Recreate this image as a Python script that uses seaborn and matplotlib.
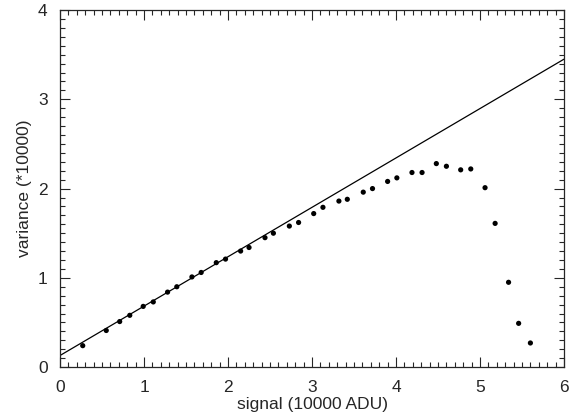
import matplotlib
matplotlib.use("Agg")
import matplotlib.pyplot as plt
from matplotlib.ticker import MultipleLocator
import seaborn as sns

# datos
signal = [0.27, 0.55, 0.71, 0.83, 0.99, 1.11, 1.28, 1.39, 1.57, 1.68,
          1.86, 1.97, 2.15, 2.25, 2.44, 2.54, 2.73, 2.84, 3.02, 3.13,
          3.32, 3.42, 3.61, 3.72, 3.90, 4.01, 4.19, 4.31, 4.48, 4.60,
          4.77, 4.89, 5.06, 5.18, 5.34, 5.46, 5.60]
variance = [0.24, 0.41, 0.51, 0.58, 0.68, 0.73, 0.84, 0.90, 1.01, 1.06,
            1.17, 1.21, 1.30, 1.34, 1.45, 1.50, 1.58, 1.62, 1.72, 1.79,
            1.86, 1.88, 1.96, 2.00, 2.08, 2.12, 2.18, 2.18, 2.28, 2.25,
            2.21, 2.22, 2.01, 1.61, 0.95, 0.49, 0.27]

# recta de ajuste
fit_x = [0, 6]
fit_y = [0.13, 3.45]

sns.set_style("ticks")
plt.rcParams['font.family'] = ['Liberation Sans', 'DejaVu Sans']
plt.rcParams['font.size'] = 12.5

fig = plt.figure(figsize=(5.72, 4.2), dpi=100)
ax = fig.add_axes([0.105, 0.126, 0.881, 0.85])

sns.lineplot(x=fit_x, y=fit_y, color="black", linewidth=0.9, ax=ax)
sns.scatterplot(x=signal, y=variance, color="black", s=14, edgecolor="none", ax=ax)

ax.set_xlim(0, 6)
ax.set_ylim(0, 4)
ax.xaxis.set_major_locator(MultipleLocator(1))
ax.xaxis.set_minor_locator(MultipleLocator(0.1))
ax.yaxis.set_major_locator(MultipleLocator(1))
ax.yaxis.set_minor_locator(MultipleLocator(0.1))
ax.tick_params(which="both", direction="in", top=True, right=True, width=0.8, labelsize=12.5)
ax.tick_params(axis="x", pad=9)
ax.tick_params(axis="y", pad=9)
ax.tick_params(which="major", length=7)
ax.tick_params(which="minor", length=3.5)
for s in ax.spines.values():
    s.set_linewidth(0.9)
    s.set_visible(True)

ax.set_xlabel("signal (10000 ADU)", labelpad=2)
ax.set_ylabel("variance (*10000)", labelpad=4)

fig.savefig("out.png", dpi=100)
